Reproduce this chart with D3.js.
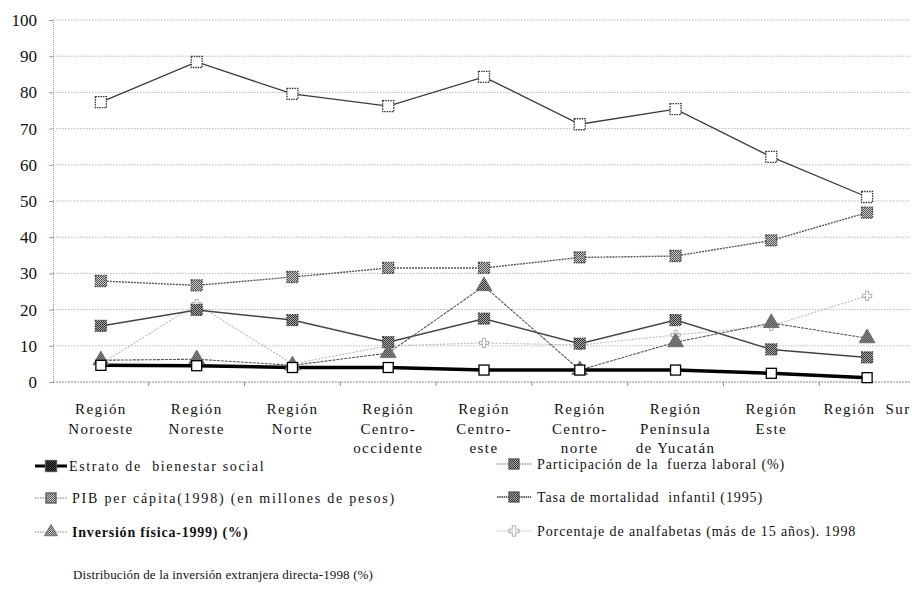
<!DOCTYPE html>
<html><head><meta charset="utf-8">
<script src="https://cdn.jsdelivr.net/npm/d3@7"></script>
<style>
html,body{margin:0;padding:0;background:#fff;}
svg{display:block;font-family:"Liberation Serif","Times New Roman",serif;}
</style></head>
<body><svg id="c" width="912" height="604"></svg>
<script>
// ---------- DATA ----------
const categories = ["Noroeste","Noreste","Norte","Centro-occidente","Centro-este","Centro-norte","Península de Yucatán","Este","Sur"];
const categoryLabels = [
  ["Región","Noroeste"],["Región","Noreste"],["Región","Norte"],
  ["Región","Centro-","occidente"],["Región","Centro-","este"],["Región","Centro-","norte"],
  ["Región","Península","de Yucatán"],["Región","Este"],["Región  Sur"]
];
const yTicks = [0,10,20,30,40,50,60,70,80,90,100];

const estrato       = [4.6, 4.5, 4.0, 4.0, 3.3, 3.3, 3.3, 2.4, 1.2];
const participacion = [77.3, 88.4, 79.6, 76.2, 84.3, 71.2, 75.4, 62.2, 51.1];
const pib           = [27.9, 26.7, 29.0, 31.5, 31.5, 34.4, 34.8, 39.1, 46.8];
const mortalidad    = [15.5, 19.9, 17.1, 11.0, 17.5, 10.6, 17.1, 9.0, 6.8];
const inversion     = [6.0, 6.3, 4.6, 8.0, 26.5, 3.3, 11.0, 16.3, 12.1];
const analfabetas   = [5.0, 21.5, 5.0, 10.0, 10.8, 10.2, 13.0, 15.5, 23.8];

const legendNames = [
  "Estrato de  bienestar social",
  "Participación de la  fuerza laboral (%)",
  "PIB per cápita(1998) (en millones de pesos)",
  "Tasa de mortalidad  infantil (1995)",
  "Inversión física-1999) (%)",
  "Porcentaje de analfabetas (más de 15 años). 1998",
  "Distribución de la inversión extranjera directa-1998 (%)"
];

// ---------- CHART ----------
const svg = d3.select("#c");
const defs = svg.append("defs");
function checker(id, a, b){
  const p = defs.append("pattern").attr("id",id).attr("width",2).attr("height",2)
    .attr("patternUnits","userSpaceOnUse");
  p.append("rect").attr("width",2).attr("height",2).attr("fill",b);
  p.append("rect").attr("width",1).attr("height",1).attr("fill",a);
  p.append("rect").attr("x",1).attr("y",1).attr("width",1).attr("height",1).attr("fill",a);
}
checker("chkBlack","#000","#444");
checker("chkDark","#333","#aaa");
checker("chkMid","#555","#c8c8c8");
checker("chkLight","#999","#e6e6e6");

const x = d3.scaleBand().domain(categories).range([53, 915]);
const y = d3.scaleLinear().domain([0,100]).range([382, 20]);
const cx = c => x(c) + x.bandwidth()/2;

// grid lines
svg.append("g").selectAll("line").data(yTicks.filter(d=>d>0)).join("line")
  .attr("x1",53).attr("x2",910).attr("y1",d=>y(d)).attr("y2",d=>y(d))
  .attr("stroke","#a5a5a5").attr("stroke-width",0.8).attr("stroke-dasharray","1.5,1.5");

// y axis
const yAxis = svg.append("g").attr("transform","translate(53,0)")
  .call(d3.axisLeft(y).tickValues(yTicks).tickSize(4).tickPadding(12));
yAxis.select(".domain").attr("stroke","#999").attr("stroke-dasharray","1,1");
yAxis.selectAll(".tick line").attr("stroke","#999");
yAxis.selectAll(".tick text").attr("font-family","Liberation Serif").attr("font-size",17).attr("fill","#111");

// x axis
const xAxis = svg.append("g").attr("transform","translate(0,382)")
  .call(d3.axisBottom(x).tickSize(0).tickFormat(""));
xAxis.select(".domain").attr("stroke","#888").attr("stroke-dasharray","2,1").attr("d","M53,0H910");
// band boundary ticks
svg.append("g").selectAll("line").data(categories.slice(1)).join("line")
  .attr("x1",d=>x(d)).attr("x2",d=>x(d)).attr("y1",382).attr("y2",386)
  .attr("stroke","#888");
// x labels
const xl = svg.append("g").selectAll("text").data(categories).join("text")
  .attr("x",cx).attr("y",414).attr("text-anchor","middle")
  .attr("font-size",15).attr("letter-spacing",1.4).attr("fill","#111");
xl.each(function(d,i){
  const t = d3.select(this);
  categoryLabels[i].forEach((ln,j)=>{
    t.append("tspan").attr("x",cx(d)).attr("dy", j===0?0:19.5).attr("xml:space","preserve").text(ln);
  });
});

// series definitions
const series = [
  {key:"participacion", values:participacion, line:"#3a3a3a", lw:1.3, dash:null,
   marker:"square", fill:"#fff", mstroke:"#333", msize:11, mdash:"1.5,1"},
  {key:"pib", values:pib, line:"#555", lw:1.4, dash:"2,1",
   marker:"square", fill:"url(#chkMid)", mstroke:"#444", msize:11, mdash:"1.5,1"},
  {key:"analfabetas", values:analfabetas, line:"#b8b8b8", lw:1.1, dash:"2,1.5",
   marker:"cross", fill:"#ccc", mstroke:"#aaa", msize:9, mdash:null},
  {key:"mortalidad", values:mortalidad, line:"#444", lw:1.5, dash:null,
   marker:"square", fill:"url(#chkDark)", mstroke:"#444", msize:11, mdash:"1.5,1"},
  {key:"inversion", values:inversion, line:"#555", lw:1.1, dash:"3,1",
   marker:"triangle", fill:"url(#chkDark)", mstroke:"#666", msize:11, mdash:null},
  {key:"estrato", values:estrato, line:"#000", lw:3.5, dash:null,
   marker:"square", fill:"#fff", mstroke:"#000", msize:10, mdash:null}
];

const line = d3.line().x((d,i)=>cx(categories[i])).y(d=>y(d));
const gLines = svg.append("g");
series.forEach(s=>{
  gLines.append("path").datum(s.values).attr("d",line)
    .attr("fill","none").attr("stroke",s.line).attr("stroke-width",s.lw)
    .attr("stroke-dasharray",s.dash);
});

function drawMarker(g, s, px, py, size){
  if(s.marker==="square"){
    g.append("rect").attr("x",px-size/2).attr("y",py-size/2).attr("width",size).attr("height",size)
      .attr("fill",s.fill).attr("stroke",s.mstroke).attr("stroke-width",1.3)
      .attr("stroke-dasharray",s.mdash);
  } else if(s.marker==="triangle"){
    g.append("path").attr("transform",`translate(${px},${py})`)
      .attr("d",d3.symbol(d3.symbolTriangle, size*size*0.9)())
      .attr("fill",s.fill).attr("stroke",s.mstroke).attr("stroke-width",0.8);
  } else {
    g.append("path").attr("transform",`translate(${px},${py})`)
      .attr("d",d3.symbol(d3.symbolCross, size*size*0.6)())
      .attr("fill","none").attr("stroke",s.mstroke).attr("stroke-width",1);
  }
}
const gMarks = svg.append("g");
series.forEach(s=>{
  s.values.forEach((v,i)=>drawMarker(gMarks, s, cx(categories[i]), y(v), s.msize));
});

// ---------- LEGEND ----------
const legendStyle = {
  estrato:      {s:series[5], col:0, y:466, fill:"url(#chkBlack)", lw:3, line:"#000", dash:null, ls:1.65, fs:14},
  participacion:{s:series[0], col:1, y:464, fill:"url(#chkDark)", lw:1, line:"#666", dash:"1.5,1", ls:0.9, fs:14},
  pib:          {s:series[1], col:0, y:498, fill:"url(#chkMid)", lw:1, line:"#777", dash:"1.5,1", ls:1.8, fs:14},
  mortalidad:   {s:series[3], col:1, y:497, fill:"url(#chkDark)", lw:2, line:"#666", dash:"1.5,0.7", ls:0.9, fs:14},
  inversion:    {s:series[4], col:0, y:532, fill:"url(#chkMid)", lw:1, line:"#888", dash:"1.5,1", ls:0.8, fs:14},
  analfabetas:  {s:series[2], col:1, y:531, fill:"none", lw:1, line:"#bbb", dash:"1.5,1", ls:0.9, fs:14}
};
const legendKeys = ["estrato","participacion","pib","mortalidad","inversion","analfabetas"];
const gLeg = svg.append("g");
legendKeys.forEach((k,i)=>{
  const st = legendStyle[k];
  const x0 = st.col===0 ? 35 : 497;
  const x1 = st.col===0 ? 67 : 531;
  const mx = (x0+x1)/2;
  gLeg.append("line").attr("x1",x0).attr("x2",x1).attr("y1",st.y).attr("y2",st.y)
    .attr("stroke",st.line).attr("stroke-width",st.lw).attr("stroke-dasharray",st.dash);
  const ms = Object.assign({}, st.s, {fill:st.fill, mstroke: st.s.marker==="cross"?"#aaa":"#555", mdash:null});
  drawMarker(gLeg, ms, mx, st.y, st.s.marker==="triangle"?9:(k==="estrato"?11:10));
  const tx = st.col===0 ? (i===0?69:72) : 537;
  const t = gLeg.append("text").attr("x",tx).attr("y",st.y+5).attr("xml:space","preserve")
    .attr("font-size",st.fs).attr("fill","#111").attr("letter-spacing",st.ls).text(legendNames[i]);
  if(k==="inversion"){ t.attr("font-weight","bold"); }
});
gLeg.append("text").attr("x",73).attr("y",579).attr("font-size",13).attr("letter-spacing",0.15)
  .attr("fill","#111").text(legendNames[6]);
</script>
</body></html>
